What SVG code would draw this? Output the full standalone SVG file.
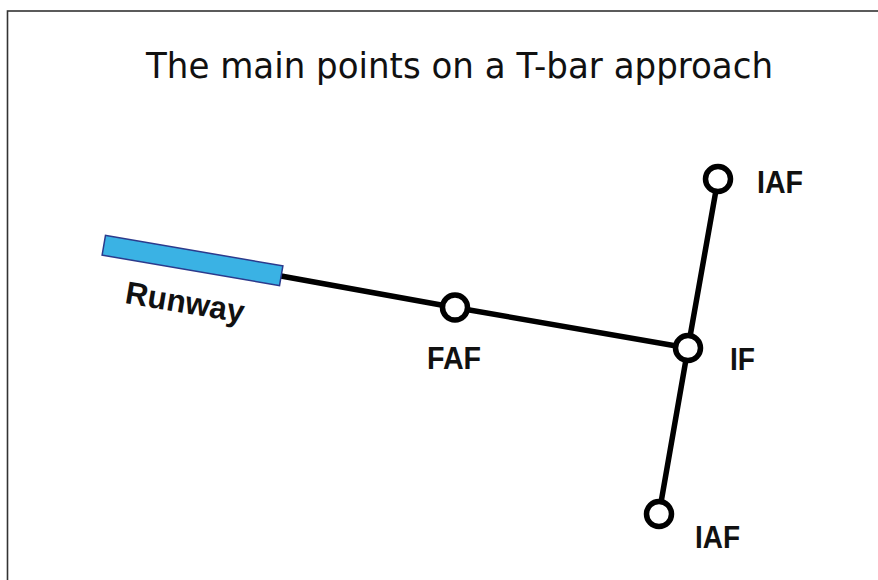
<svg xmlns="http://www.w3.org/2000/svg" width="878" height="580" viewBox="0 0 878 580">
<style>
.lbl{font-family:"Liberation Sans",Arial,sans-serif;font-weight:bold;font-size:32px;fill:#111}
.ttl{font-family:"DejaVu Sans",sans-serif;font-size:36px;fill:#111}
.conn{stroke:#000;stroke-width:5.5;fill:none;stroke-linecap:round}
.pt{fill:#fff;stroke:#000;stroke-width:5.5}
</style>
<rect x="7.5" y="11" width="880" height="580" fill="#fff" stroke="#333" stroke-width="1.6"/>
<text class="ttl" x="146" y="78" textLength="627" lengthAdjust="spacingAndGlyphs">The main points on a T-bar approach</text>
<g id="connectors">
<polyline class="conn" points="281,276 455,307.5 688,348"/>
<polyline class="conn" points="718,179 688,348 659,514"/>
</g>
<g id="runway">
<rect x="-90" y="-10" width="180" height="20" fill="#3AB2E4" stroke="#2B3A8C" stroke-width="1.5" transform="translate(192.5,260.5) rotate(9.75)"/>
<text class="lbl" x="0" y="0" font-size="28" textLength="120" lengthAdjust="spacingAndGlyphs" transform="translate(124,303) rotate(9.5)">Runway</text>
</g>
<g id="faf">
<circle class="pt" cx="455" cy="307.5" r="12.5"/>
<text class="lbl" x="427" y="369" textLength="54" lengthAdjust="spacingAndGlyphs">FAF</text>
</g>
<g id="if">
<circle class="pt" cx="688" cy="348" r="12.5"/>
<text class="lbl" x="730" y="370" textLength="25" lengthAdjust="spacingAndGlyphs">IF</text>
</g>
<g id="iaf-top">
<circle class="pt" cx="718" cy="179" r="12.5"/>
<text class="lbl" x="757" y="193" textLength="46" lengthAdjust="spacingAndGlyphs">IAF</text>
</g>
<g id="iaf-bottom">
<circle class="pt" cx="659" cy="514" r="12.5"/>
<text class="lbl" x="695" y="548" textLength="45" lengthAdjust="spacingAndGlyphs">IAF</text>
</g>
</svg>
